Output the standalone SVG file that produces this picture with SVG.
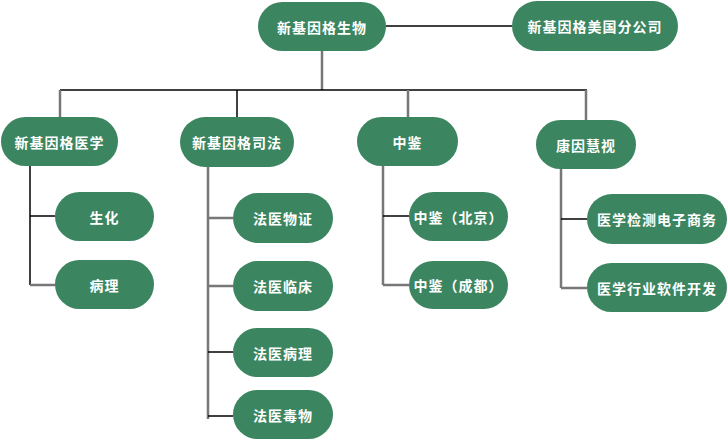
<svg xmlns="http://www.w3.org/2000/svg" width="728" height="440" viewBox="0 0 728 440">
<style>
.n{fill:#3b8560;}
.t{fill:#ffffff;font-family:"Noto Sans CJK SC","Noto Sans",sans-serif;font-size:14px;font-weight:bold;letter-spacing:1px;text-anchor:middle;dominant-baseline:central;}
.g{stroke:#777777;stroke-width:2.5;fill:none;}
.k{stroke:#000000;stroke-width:1.5;fill:none;}
</style>
<rect width="728" height="440" fill="#ffffff"/>
<g id="connectors">
<line class="k" x1="386" y1="26" x2="512" y2="26"/>
<line class="g" x1="322" y1="51" x2="322" y2="90"/>
<line class="k" x1="60" y1="90" x2="587" y2="90"/>
<line class="g" x1="60" y1="90" x2="60" y2="117"/>
<line class="k" x1="237" y1="90" x2="237" y2="117"/>
<line class="g" x1="408" y1="90" x2="408" y2="117"/>
<line class="g" x1="586" y1="90" x2="586" y2="120"/>
<line class="k" x1="30" y1="166" x2="30" y2="285"/>
<line class="k" x1="30" y1="216" x2="55" y2="216"/>
<line class="g" x1="30" y1="285" x2="55" y2="285"/>
<line class="g" x1="208" y1="167" x2="208" y2="419"/>
<line class="g" x1="208" y1="218" x2="233" y2="218"/>
<line class="g" x1="208" y1="286" x2="233" y2="286"/>
<line class="k" x1="208" y1="352" x2="233" y2="352"/>
<line class="k" x1="208" y1="416" x2="233" y2="416"/>
<line class="g" x1="383" y1="166" x2="383" y2="285"/>
<line class="k" x1="383" y1="216" x2="409" y2="216"/>
<line class="g" x1="383" y1="285" x2="409" y2="285"/>
<line class="g" x1="561" y1="169" x2="561" y2="288"/>
<line class="k" x1="561" y1="219" x2="587" y2="219"/>
<line class="g" x1="561" y1="288" x2="587" y2="288"/>
</g>
<g id="n-root"><rect class="n" x="258" y="2" width="128" height="49" rx="24.5"/><text class="t" x="322" y="26.5">新基因格生物</text></g>
<g id="n-us"><rect class="n" x="512" y="1" width="166" height="50" rx="25"/><text class="t" x="595" y="26">新基因格美国分公司</text></g>
<g id="n-med"><rect class="n" x="1" y="117" width="117" height="49" rx="24.5"/><text class="t" x="59.5" y="141.5">新基因格医学</text></g>
<g id="n-law"><rect class="n" x="180" y="117" width="114" height="50" rx="25"/><text class="t" x="237" y="142">新基因格司法</text></g>
<g id="n-zj"><rect class="n" x="357" y="117" width="101" height="49" rx="24.5"/><text class="t" x="407.5" y="141.5">中鉴</text></g>
<g id="n-kyhs"><rect class="n" x="536" y="120" width="100" height="49" rx="24.5"/><text class="t" x="586" y="144.5">康因慧视</text></g>
<g id="n-sh"><rect class="n" x="55" y="192" width="99" height="49" rx="24.5"/><text class="t" x="104.5" y="216.5">生化</text></g>
<g id="n-bl"><rect class="n" x="55" y="260" width="99" height="49" rx="24.5"/><text class="t" x="104.5" y="284.5">病理</text></g>
<g id="n-fywz"><rect class="n" x="233" y="193" width="100" height="50" rx="25"/><text class="t" x="283" y="218">法医物证</text></g>
<g id="n-fylc"><rect class="n" x="233" y="261" width="100" height="50" rx="25"/><text class="t" x="283" y="286">法医临床</text></g>
<g id="n-fybl"><rect class="n" x="233" y="328" width="100" height="49" rx="24.5"/><text class="t" x="283" y="352.5">法医病理</text></g>
<g id="n-fydw"><rect class="n" x="233" y="390" width="100" height="49" rx="24.5"/><text class="t" x="283" y="414.5">法医毒物</text></g>
<g id="n-zjbj"><rect class="n" x="409" y="192" width="99" height="49" rx="24.5"/><text class="t" x="458.5" y="216.5">中鉴（北京）</text></g>
<g id="n-zjcd"><rect class="n" x="409" y="261" width="99" height="48" rx="24"/><text class="t" x="458.5" y="285">中鉴（成都）</text></g>
<g id="n-yxjc"><rect class="n" x="587" y="194" width="140" height="50" rx="25"/><text class="t" x="657" y="219">医学检测电子商务</text></g>
<g id="n-yxhy"><rect class="n" x="587" y="263" width="140" height="49" rx="24.5"/><text class="t" x="657" y="287.5">医学行业软件开发</text></g>
</svg>
